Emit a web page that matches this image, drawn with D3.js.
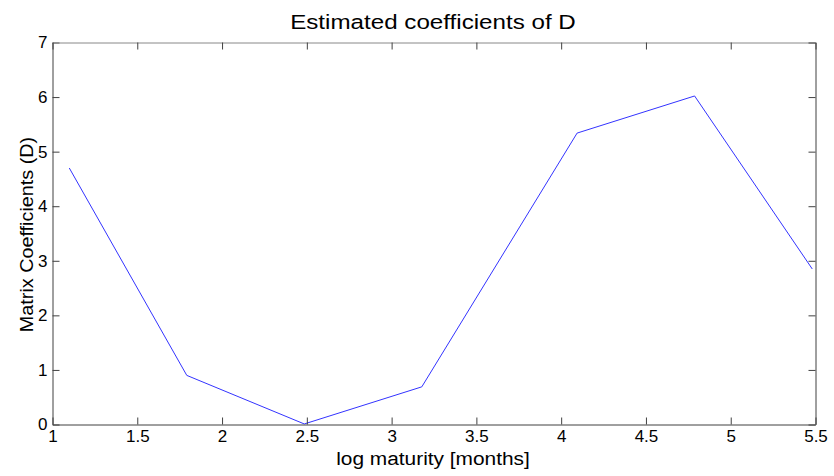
<!DOCTYPE html>
<html><head><meta charset="utf-8">
<script src="https://cdn.jsdelivr.net/npm/d3@7"></script>
<style>body{margin:0;background:#fff}svg{display:block}text{font-family:"Liberation Sans",Arial,sans-serif;fill:#000}</style>
</head><body><svg id="c" width="834" height="476"></svg>
<script>
const logMaturity = [1.099, 1.792, 2.485, 3.178, 4.094, 4.787, 5.481];
const coefficients = [4.70, 0.90, 0.01, 0.69, 5.34, 6.02, 2.85];
const xTicks = [1, 1.5, 2, 2.5, 3, 3.5, 4, 4.5, 5, 5.5];
const yTicks = [0, 1, 2, 3, 4, 5, 6, 7];

(function(){
const svg = d3.select("#c");
const L = 52.5, R = 815.5, T = 42.5, B = 424.5;
const x = d3.scaleLinear().domain([1, 5.5]).range([L, R]);
const y = d3.scaleLinear().domain([0, 7]).range([B, T]);
const axisColor = "#404040";
const tl = 7;

const g = svg.append("g");
g.append("path").datum(logMaturity.map((v,i)=>[v, coefficients[i]]))
  .attr("fill","none").attr("stroke","#3333ff").attr("stroke-width",1)
  .attr("d", d3.line().x(d=>x(d[0])).y(d=>y(d[1])));

const axB = g.append("g").attr("transform",`translate(0,${B})`)
  .call(d3.axisBottom(x).tickValues(xTicks).tickSizeInner(-tl).tickSizeOuter(0).tickPadding(5).tickFormat(d3.format("")));
const axL = g.append("g").attr("transform",`translate(${L},0)`)
  .call(d3.axisLeft(y).tickValues(yTicks).tickSizeInner(-tl).tickSizeOuter(0).tickPadding(5).tickFormat(d3.format("")));
const axT = g.append("g").attr("transform",`translate(0,${T})`)
  .call(d3.axisTop(x).tickValues(xTicks).tickSizeInner(-tl).tickSizeOuter(0).tickFormat(""));
const axR = g.append("g").attr("transform",`translate(${R},0)`)
  .call(d3.axisRight(y).tickValues(yTicks).tickSizeInner(-tl).tickSizeOuter(0).tickFormat(""));
[axB,axL,axT,axR].forEach(a=>{
  a.selectAll("path,line").attr("stroke",axisColor);
  a.selectAll("text").style("font-size","17px").attr("fill","#000");
});
axT.select(".domain").attr("stroke","#888");

svg.append("text").attr("transform","translate(433,28.5) scale(1.24,1)").attr("text-anchor","middle").style("font-size","19.5px").text("Estimated coefficients of D");
svg.append("text").attr("transform","translate(433,465) scale(1.16,1)").attr("text-anchor","middle").style("font-size","18px").text("log maturity [months]");
svg.append("text").attr("transform",`translate(33,${(T+B)/2+1}) rotate(-90) scale(1.1,1)`).attr("text-anchor","middle").style("font-size","18px").text("Matrix Coefficients (D)");
})();
</script></body></html>
